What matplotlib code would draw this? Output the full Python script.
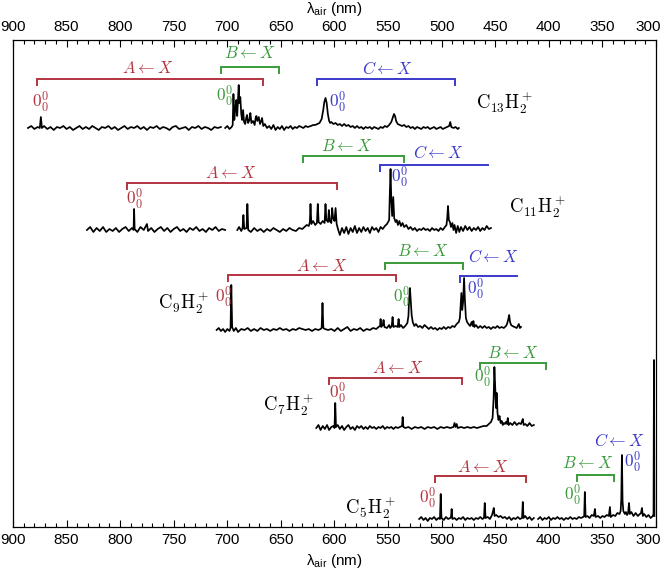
import numpy as np
import matplotlib
matplotlib.use("Agg")
import matplotlib.pyplot as plt
import matplotlib.transforms as mtransforms
from matplotlib.ticker import MultipleLocator

plt.rcParams['font.family'] = ['Liberation Sans', 'DejaVu Sans']
plt.rcParams['mathtext.fontset'] = 'custom'
plt.rcParams['mathtext.rm'] = 'Liberation Sans'
plt.rcParams['mathtext.it'] = 'Liberation Sans:italic'

# colours of the three electronic systems
RED = '#b2343f'
GREEN = '#3a9a3a'
BLUE = '#3a3acb'

# --- spectra: (wavelength nm, intensity above baseline) ---
c13_a = [(886, 0), (883, 2), (880, -1), (877, 1), (875, 0), (874, 11), (873, 0), (871, 2), (868, -1),
         (865, 1), (862, -2), (859, 1), (856, 0), (853, 2), (850, -1), (847, 1), (844, -2), (841, 0),
         (838, 2), (835, -1), (832, 1), (829, -1), (826, 2), (823, 0), (820, -2), (817, 1), (814, 0),
         (811, 2), (808, -1), (805, 1), (802, -2), (799, 0), (796, 2), (793, -1), (790, 1), (787, 0),
         (784, 2), (781, -1), (778, 1), (775, -2), (772, 1), (769, 0), (766, 2), (763, -1), (760, 1),
         (757, 0), (754, -2), (751, 1), (748, 2), (745, -1), (742, 0), (739, 1), (736, -2), (733, 1),
         (730, 0), (727, 2), (724, -1), (721, 1), (718, 0), (715, -2), (712, 1), (709, 0), (706, 1)]
c13_b = [(702, 0), (700, 2), (698, -1), (696, 1), (695, 3), (694.3, 34), (693.5, 8), (692.5, 20),
         (691.6, 28), (690.8, 12), (690, 30), (689.4, 43), (688.8, 25), (687.9, 31), (687, 14),
         (686.2, 8), (685.3, 18), (684.4, 6), (683.3, 4), (682.4, 10), (681.6, 13), (680.6, 5),
         (679.4, 8), (678.5, 15), (677.5, 5), (676, 7), (674.5, 3), (673.6, 10), (672.9, 12), (672, 7),
         (670.7, 11), (669.5, 4), (668.4, 7), (667.6, 10), (666.5, 2), (665, 4), (663, 0), (661, 2),
         (659, -1), (657, 3), (655, -2), (653, 1), (651, -1), (649, 2), (647, -2), (645, 1), (643, 0),
         (641, 2), (639, -1), (637, 1), (635, 0), (633, 2), (631, 1), (629, 0), (627, 2), (625, 1),
         (622, 2), (620, 3), (618, 3), (616, 4), (614, 5), (612, 9), (610.5, 18), (609.5, 26),
         (608.4, 30), (607.3, 25), (606.2, 14), (605, 7), (604, 5), (603, 6), (601, 4), (599, 5),
         (597, 3), (595, 4), (593, 2), (591, 4), (589, 2), (587, 3), (585, 1), (583, 2), (581, 0),
         (579, 2), (577, 0), (575, 1), (573, -1), (571, 1), (569, 0), (567, 1), (565, -1), (563, 1),
         (561, 0), (559, -1), (557, 1), (555, 0), (553, 2), (551, 1), (549, 3), (547, 6), (545.5, 11),
         (544.5, 14), (543.5, 12), (542.5, 7), (541, 4), (539, 3), (537, 2), (535, 3), (533, 1),
         (531, 2), (529, 0), (527, 1), (525, -1), (523, 1), (521, 0), (519, -1), (517, 1), (515, 0),
         (513, 1), (511, -1), (509, 0), (507, 1), (505, -1), (503, 0), (501, 1), (499, -1), (497, 0),
         (495, 1), (493, 2), (492, 6), (491, 1), (489, 0), (487, 1), (485, -1), (484, 0)]

c11_a = [(831, 0), (828, 3), (825, -2), (822, 2), (819, -1), (816, 3), (813, -2), (810, 1), (807, -1),
         (804, 2), (801, -2), (798, 1), (795, 3), (792, -1), (789, 2), (787.5, 0), (787, 21),
         (786.5, 1), (784, -2), (781, 3), (778, 0), (775, 6), (774, -1), (771, 2), (768, -2), (765, 1),
         (762, 3), (759, -1), (756, 2), (753, -2), (750, 1), (747, 3), (744, -1), (741, 1), (738, -2),
         (735, 2), (732, 0), (729, 3), (726, -1), (723, 1), (720, -2), (717, 2), (714, 0), (711, 3),
         (708, -1), (705, 1), (702, 0)]
c11_b = [(690.7, 0), (689, 3), (687, -1), (685.8, 2), (685, 15), (684.2, 1), (682, 2), (681.3, 26),
         (680.5, 0), (678, -2), (675, 2), (672, -1), (669, 1), (666, -2), (663, 1), (660, -1), (657, 2),
         (654, 0), (651, -2), (648, 1), (645, -1), (642, 2), (639, 0), (636, -1), (633, 2), (630, 1),
         (628, 3), (626, 5), (624, 4), (623, 8), (622.4, 26), (621.6, 6), (620, 9), (618, 5),
         (616.4, 7), (615.6, 26), (614.8, 8), (613, 6), (611, 9), (609.2, 7), (608.4, 26), (607.6, 10),
         (606, 8), (605.3, 20), (604.4, 9), (603, 7), (602.2, 22), (601.3, 12), (600, 9), (599, 22),
         (598, 6), (596.5, 0), (595, -5), (593, 2), (591, -3), (589, 3), (587, -4), (585, 2), (583, -2),
         (581, 4), (579, -3), (577, 2), (575, -2), (573, 3), (571, -1), (569, 2), (567, -3), (565, 3),
         (563, 0), (561, 2), (559, -2), (557, 3), (555, 1), (553, 4), (551, 6), (549, 10), (548.3, 40),
         (547.7, 61), (547, 30), (546.2, 14), (545.2, 33), (544.3, 12), (543, 8), (542, 10),
         (540.8, 5), (539.5, 9), (538, 4), (536.5, 7), (535, 3), (533, 5), (531, 1), (529, 3), (527, 0),
         (525, 2), (523, -1), (521, 1), (519, 0), (517, 2), (515, 0), (513, 1), (511, -1), (509, 2),
         (507, 0), (505, 1), (503, -1), (501, 2), (499, 0), (497, 3), (495.5, 5), (494.8, 12),
         (494.1, 24), (493.3, 10), (492.3, 8), (491.3, 3), (490, 7), (489, 0), (488, 5), (486.5, -3),
         (485, 4), (483.5, -2), (482, 3), (480, -1), (478, 4), (476, 0), (474, 3), (472, -1), (470, 2),
         (468, 0), (466, 3), (464, -1), (462, 2), (460, 0), (458, 4), (456, 1), (454, 2)]

c9_a = [(710, 0), (708, 2), (706, -1), (704, 1), (702, -2), (700, 1), (698, -1), (697, 2), (696.3, 45),
        (695.5, 3), (694, -1), (692, 2), (690, -2), (687, 1), (684, 0), (681, 2), (678, -1), (675, 1),
        (672, -1), (669, 2), (666, 0), (663, 1), (660, -1), (657, 1), (654, 0), (651, 2), (648, 0),
        (645, 1), (642, -1), (639, 1), (636, 0), (633, 2), (630, 1), (627, 0), (624, 1), (621, -1),
        (618, 1), (615, 0), (613, 1), (612, 2), (611.2, 27), (610.4, 2), (609, 1), (606, 0), (603, 1),
        (600, -1), (597, 2), (594, -1), (591, 1), (588, 3), (585, -1), (582, 1), (579, 0), (576, 2),
        (573, -1), (570, 1), (567, 0), (564, 2), (561, 1), (559, 3), (557.5, 4), (557, 11),
        (556.4, 3), (555, 5), (554.2, 10), (553.4, 3), (551, 2), (549, 5), (548, 2), (546.6, 4),
        (545.8, 13), (545, 3), (543, 4), (541, 3), (540.2, 11), (539.4, 3), (538, 5), (536, 2),
        (534, 4), (532, 7), (531, 14), (530.4, 30), (529.6, 42), (528.8, 28), (528, 15), (527, 8),
        (525.5, 4), (524, 6), (522, 3), (520, 4), (518, 2), (516, 5), (514, 3), (512, 1), (510, 3),
        (508, 1), (506, 2), (504, 0), (502, 2), (500, 1), (498, 3), (496, 1), (494, 3), (492, 2),
        (490, 4), (488, 3), (486, 6), (484, 8), (483, 12), (482.3, 25), (481.6, 37), (480.8, 20),
        (480, 28), (479.1, 52), (478.3, 30), (477.4, 12), (476.3, 8), (475, 6), (473.5, 4), (472, 8),
        (471, 4), (470.4, 9), (469.5, 3), (468, 5), (466, 2), (464, 4), (462, 2), (460, 4), (458, 2),
        (456, 3), (454, 1), (452, 3), (450, 2), (448, 4), (446, 2), (444, 3), (442, 2), (440, 4),
        (439, 6), (438, 10), (437, 15), (436.2, 8), (435.2, 5), (434, 4), (432, 3), (430, 2),
        (429, 4), (428, 6), (427, 2), (426, 3)]

c7_a = [(617, 0), (615, 3), (613, -2), (611, 2), (609, -1), (607, 3), (605, -2), (603, 1), (601, 2),
        (600, 0), (599.3, 25), (598.6, 1), (597, 3), (595, -1), (593, 2), (591, -2), (589, 1),
        (587, 3), (585, -1), (583, 1), (581, -2), (579, 2), (577, 0), (575, 2), (573, -1), (571, 1),
        (569, -1), (567, 2), (565, 0), (563, 1), (561, -1), (559, 1), (557, 0), (555, 2), (553, -1),
        (551, 1), (549, 0), (547, 1), (545, -1), (543, 1), (541, 0), (539, 1), (537, 2), (536.4, 11),
        (535.7, 1), (534, 0), (531, 1), (528, -1), (525, 1), (522, 0), (519, 1), (516, -1), (513, 1),
        (510, 0), (507, 1), (504, -1), (501, 1), (498, 0), (495, 1), (492, 0), (489, 1), (488, 5),
        (487, 1), (486, 4), (485, 0), (482, 1), (479, 0), (476, 1), (473, 0), (470, 1), (467, 0),
        (464, 1), (461, 2), (458, 2), (456, 4), (454, 6), (452.5, 10), (451.5, 30), (450.8, 61),
        (450, 40), (449.3, 20), (448.6, 35), (447.9, 15), (447, 8), (446, 12), (445, 5), (444, 7),
        (443, 3), (442, 5), (441, 4), (440, 6), (439, 4), (438.3, 10), (437.5, 3), (436, 5), (434, 3),
        (432, 6), (430, 3), (428, 5), (426, 4), (425, 7), (424.3, 9), (423.5, 3), (422, 4), (420, 2),
        (418, 5), (416, 2), (414, 3)]

c5_a = [(521, 0), (519, 2), (517, -1), (515, 1), (513, -2), (511, 1), (509, 0), (507, 2), (505, -1),
        (503, 1), (501.6, 0), (500.9, 25), (500.2, 1), (498, -1), (496, 2), (494, 0), (492, 1),
        (491.3, 2), (490.7, 10), (490, 0), (488, 1), (486, -1), (484, 1), (482, 0), (480, 2),
        (478, -1), (476, 1), (474, 0), (472, 1), (470, -1), (468, 1), (466, 0), (464, 2), (462, 0),
        (460.5, 1), (459.8, 16), (459, 1), (457, 2), (455, 0), (453, 4), (452, 8), (451.4, 11),
        (450.6, 3), (449, 4), (447, 2), (445, 3), (443, 1), (441, 2), (439, 0), (437, 2), (435, -1),
        (433, 1), (431, 0), (429, 2), (427, 0), (425, 1), (424.3, 17), (423.6, 1), (422, 3), (420, 0),
        (418, 2), (416, -1), (414, 1)]
c5_b = [(410, 0), (408, 2), (406, -1), (404, 1), (402, 0), (400, 2), (398, -1), (396, 1), (394, 0),
        (392, 2), (390, 0), (388, 1), (386, -1), (384, 1), (382, 0), (380, 2), (378, 0), (376, 1),
        (374, 0), (372, 2), (370, 1), (368, 2), (367, 3), (366.4, 27), (365.7, 2), (364, 3), (362, 1),
        (360, 4), (358, 3), (357, 10), (356.3, 2), (354, 3), (352, 1), (350, 3), (348, 2), (346, 4),
        (344, 3), (343, 12), (342.3, 2), (340, 4), (338, 3), (336, 6), (334, 5), (333, 8),
        (332.4, 20), (331.8, 64), (331.2, 18), (330.5, 8), (329, 5), (328, 7), (327, 4), (326, 6),
        (325.2, 16), (324.4, 5), (323, 7), (321, 3), (319, 6), (317, 3), (315, 5), (314, 6),
        (313.1, 11), (312.3, 3), (311, 5), (309, 2), (307, 4), (305, 1), (303, 3), (302.3, 5),
        (301.9, 159), (301.5, 3)]

# vertical offsets of each trace (pixel row of baseline in the figure)
offsets = {'C13': 128, 'C11': 230, 'C9': 330, 'C7': 428, 'C5': 519}
segments = [('C13', c13_a), ('C13', c13_b), ('C11', c11_a), ('C11', c11_b),
            ('C9', c9_a), ('C7', c7_a), ('C5', c5_a), ('C5', c5_b)]

mol_labels = [r'$\mathrm{C_{13}H_2^+}$', r'$\mathrm{C_{11}H_2^+}$', r'$\mathrm{C_9H_2^+}$',
              r'$\mathrm{C_7H_2^+}$', r'$\mathrm{C_5H_2^+}$']
mol_label_pos = [(468, 103), (437, 207), (765, 303), (667, 405), (590, 508)]

# brackets: (system, start nm, end nm, row, label nm, label row, ticks)
brackets = [
    ('A', 877.5, 667, 79, 774, 68, (1, 1)),
    ('B', 706, 652, 67, 679, 53, (1, 1)),
    ('C', 616, 488, 79, 551, 68, (1, 1)),
    ('A', 793.5, 598, 183, 697, 173, (1, 1)),
    ('B', 629, 535, 156, 589, 146, (1, 1)),
    ('C', 558, 457, 165, 503, 153, (1, 0)),
    ('A', 699, 543, 275, 612, 266, (1, 1)),
    ('B', 553, 480, 263, 518, 251, (1, 1)),
    ('C', 483, 430, 276, 452, 257, (1, 0)),
    ('A', 605, 481, 378, 541, 368, (1, 1)),
    ('B', 464.5, 403, 363, 434, 353, (1, 1)),
    ('A', 506.5, 421.5, 476, 462, 467, (1, 1)),
    ('B', 374, 339, 475, 364, 463, (1, 1)),
]
# C <- X of C5H2+ has no bracket
free_labels = [('C', 334.5, 441)]

# origin band markers 0_0^0: (system, nm, row)
origins = [('A', 874, 102), ('B', 703, 96), ('C', 597, 102),
           ('A', 787, 199), ('C', 539, 177),
           ('A', 704, 297), ('B', 537.5, 297), ('C', 468, 289),
           ('A', 597, 393), ('B', 462, 377),
           ('A', 513, 498), ('B', 377.5, 495), ('C', 321.5, 462)]

colors = {'A': RED, 'B': GREEN, 'C': BLUE}
TOP = 527  # pixel row of the lower frame -> y = TOP - row


def row(r):
    return TOP - r


fig = plt.figure(figsize=(6.61, 5.74), dpi=100)
ax = fig.add_axes([13 / 661, 47 / 574, 643 / 661, 487 / 574])

for mol, seg in segments:
    wl, inten = np.array(seg, dtype=float).T
    ax.plot(wl, row(offsets[mol]) + inten, color='black', lw=1.25)

for name, (xl, yl) in zip(mol_labels, mol_label_pos):
    ax.text(xl, row(yl), name, ha='left', va='center', fontsize=13.5, math_fontfamily='cm')

for sys_, l1, l2, r, lx, ly, ticks in brackets:
    y = row(r)
    xs, ys = [l1, l2], [y, y]
    if ticks[0]:
        xs, ys = [l1] + xs, [y - 6] + ys
    if ticks[1]:
        xs, ys = xs + [l2], ys + [y - 6]
    ax.plot(xs, ys, color=colors[sys_], lw=1.4, solid_joinstyle='miter')
    ax.text(lx, row(ly), r'$%s \leftarrow X$' % sys_, color=colors[sys_], ha='center',
            va='center', fontsize=12, math_fontfamily='cm')

for sys_, lx, ly in free_labels:
    ax.text(lx, row(ly), r'$%s \leftarrow X$' % sys_, color=colors[sys_], ha='center',
            va='center', fontsize=12, math_fontfamily='cm')

for sys_, lx, ly in origins:
    ax.text(lx, row(ly), r'$0_0^0$', color=colors[sys_], ha='center', va='center',
            fontsize=12.5, math_fontfamily='cm')

ax.set_xlim(900, 300)
ax.set_ylim(0, 487)
ax.set_yticks([])
ax.xaxis.set_major_locator(MultipleLocator(50))
ax.xaxis.set_minor_locator(MultipleLocator(10))
ax.tick_params(axis='x', which='both', direction='in', top=True, bottom=True,
               labeltop=True, labelbottom=True, labelsize=11, pad=4)
ax.tick_params(axis='x', which='major', length=5, width=0.8)
ax.tick_params(axis='x', which='minor', length=3, width=0.8)
for s in ax.spines.values():
    s.set_linewidth(0.9)

xlab = 'λ$_{\\mathrm{air}}$ (nm)'
ax.set_xlabel(xlab, fontsize=11, labelpad=4)
fig.text(334 / 661, 1 - 9 / 574, xlab, fontsize=11, ha='center', va='center')

# pull the last tick label (300) inside the figure, as in the original
fig.canvas.draw()
shift = mtransforms.ScaledTranslation(-0.075, 0, fig.dpi_scale_trans)
for tick in ax.xaxis.get_major_ticks():
    if abs(tick.get_loc() - 300) < 1e-6:
        tick.label1.set_transform(tick.label1.get_transform() + shift)
        tick.label2.set_transform(tick.label2.get_transform() + shift)

fig.savefig('out.png', dpi=100)
